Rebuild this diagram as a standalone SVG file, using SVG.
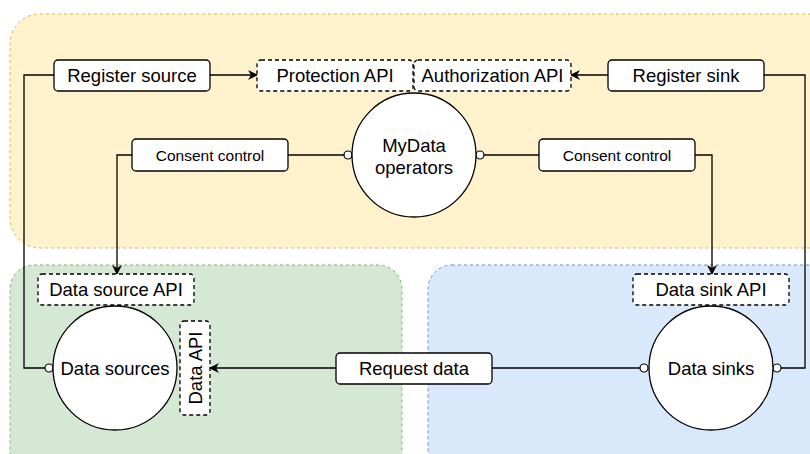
<svg xmlns="http://www.w3.org/2000/svg" width="810" height="454" viewBox="0 0 810 454">
  <defs>
    <style>
      .zone { stroke-width: 1; stroke-dasharray: 3 3; }
      .box { fill: #ffffff; stroke: #000000; stroke-width: 1.3; }
      .api { fill: #ffffff; stroke: #000000; stroke-width: 1.3; stroke-dasharray: 4 3; }
      .node { fill: #ffffff; stroke: #000000; stroke-width: 1.3; }
      .lbl { font-family: "Liberation Sans", Arial, sans-serif; font-size: 18.5px; fill: #000000; text-anchor: middle; dominant-baseline: central; }
      .small { font-size: 15.5px; }
      .wire { fill: none; stroke: #000000; stroke-width: 1.3; }
      .end { fill: #ffffff; stroke: #000000; stroke-width: 1.2; }
    </style>
    <marker id="arrow" viewBox="0 0 10 10" refX="9" refY="5" markerWidth="10" markerHeight="10" markerUnits="userSpaceOnUse" orient="auto">
      <path d="M0,0 L10,5 L0,10 L3,5 Z" fill="#000000"/>
    </marker>
  </defs>

  <!-- zones -->
  <g id="zone-operators">
    <rect class="zone" x="10" y="14" width="830" height="234" rx="30" fill="#fff2cc" stroke="#d6b656"/>
  </g>
  <g id="zone-sources">
    <rect class="zone" x="10" y="265" width="392" height="220" rx="24" fill="#d5e8d4" stroke="#82b366"/>
  </g>
  <g id="zone-sinks">
    <rect class="zone" x="428" y="265" width="420" height="220" rx="24" fill="#dae8fc" stroke="#6c8ebf"/>
  </g>

  <!-- connectors -->
  <g id="connectors">
    <path class="wire" d="M210,75 L257,75" marker-end="url(#arrow)"/>
    <path class="wire" d="M608,75 L571,75" marker-end="url(#arrow)"/>
    <path class="wire" d="M54,75 L24,75 L24,368 L49,368"/>
    <path class="wire" d="M764,75 L805,75 L805,368 L777,368"/>
    <path class="wire" d="M288,155 L348,155"/>
    <path class="wire" d="M480,155 L539,155"/>
    <path class="wire" d="M132,155 L117,155 L117,274" marker-end="url(#arrow)"/>
    <path class="wire" d="M695,155 L712,155 L712,274" marker-end="url(#arrow)"/>
    <path class="wire" d="M336,368 L210,368" marker-end="url(#arrow)"/>
    <path class="wire" d="M492,368 L644,368"/>
    <circle class="end" cx="348" cy="155" r="4"/>
    <circle class="end" cx="480" cy="155" r="4"/>
    <circle class="end" cx="49" cy="368" r="4"/>
    <circle class="end" cx="644" cy="368" r="4"/>
    <circle class="end" cx="777" cy="368" r="4"/>
  </g>

  <!-- nodes -->
  <g id="register-source">
    <rect class="box" x="54" y="60" width="156" height="31" rx="4"/>
    <text class="lbl" x="132" y="75.5">Register source</text>
  </g>
  <g id="protection-api">
    <rect class="api" x="257" y="60" width="156" height="31" rx="4"/>
    <text class="lbl" x="335" y="75.5">Protection API</text>
  </g>
  <g id="authorization-api">
    <rect class="api" x="414" y="60" width="157" height="31" rx="4"/>
    <text class="lbl" x="492.5" y="75.5">Authorization API</text>
  </g>
  <g id="register-sink">
    <rect class="box" x="608" y="60" width="156" height="31" rx="4"/>
    <text class="lbl" x="686" y="75.5">Register sink</text>
  </g>
  <g id="mydata-operators">
    <circle class="node" cx="414" cy="155" r="62"/>
    <text class="lbl" x="414" y="145">MyData</text>
    <text class="lbl" x="414" y="167">operators</text>
  </g>
  <g id="consent-control-source">
    <rect class="box" x="132" y="139" width="156" height="32" rx="4"/>
    <text class="lbl small" x="210" y="155.5">Consent control</text>
  </g>
  <g id="consent-control-sink">
    <rect class="box" x="539" y="139" width="156" height="32" rx="4"/>
    <text class="lbl small" x="617" y="155.5">Consent control</text>
  </g>
  <g id="data-source-api">
    <rect class="api" x="38" y="274" width="156" height="31" rx="4"/>
    <text class="lbl" x="116" y="289.5">Data source API</text>
  </g>
  <g id="data-sources">
    <circle class="node" cx="115" cy="368" r="62"/>
    <text class="lbl" x="115" y="368.5">Data sources</text>
  </g>
  <g id="data-api">
    <rect class="api" x="180" y="321" width="30" height="94" rx="4"/>
    <text class="lbl" x="195" y="368" transform="rotate(-90 195 368)">Data API</text>
  </g>
  <g id="request-data">
    <rect class="box" x="336" y="353" width="156" height="31" rx="4"/>
    <text class="lbl" x="414" y="368.5">Request data</text>
  </g>
  <g id="data-sink-api">
    <rect class="api" x="633" y="274" width="156" height="31" rx="4"/>
    <text class="lbl" x="711" y="289.5">Data sink API</text>
  </g>
  <g id="data-sinks">
    <circle class="node" cx="711" cy="368" r="62"/>
    <text class="lbl" x="711" y="368.5">Data sinks</text>
  </g>
</svg>
